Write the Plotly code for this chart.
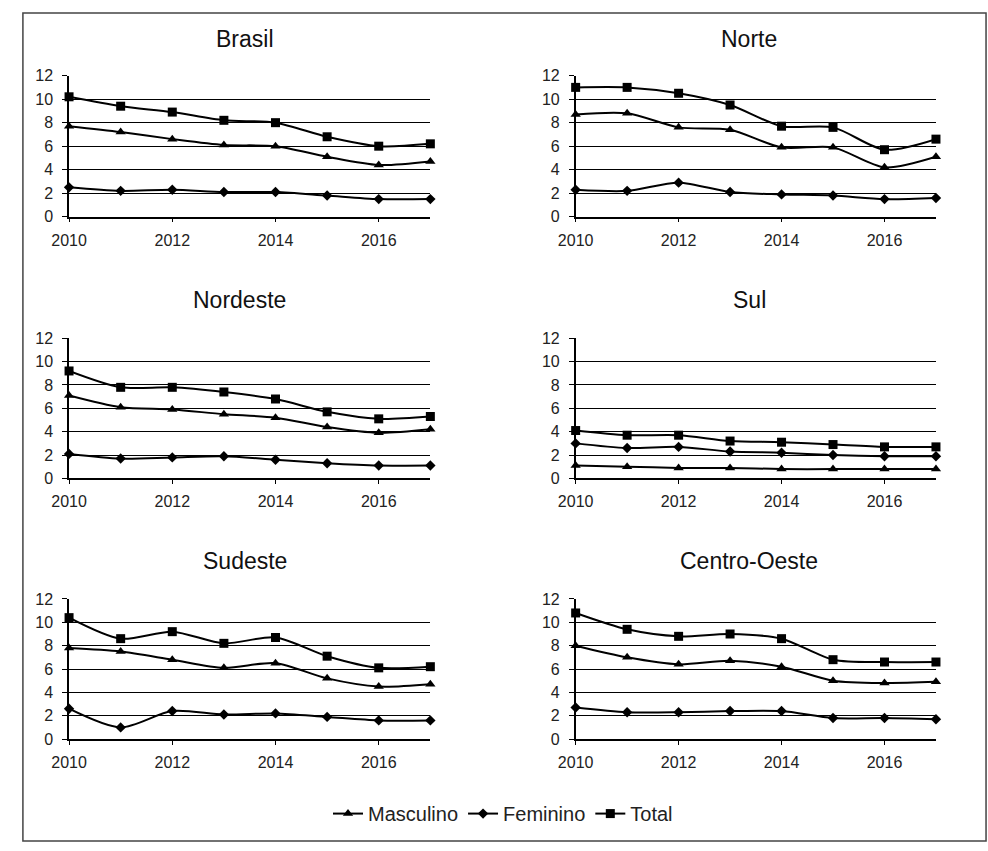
import plotly.graph_objects as go

W, H = 988, 851

years = [2010, 2011, 2012, 2013, 2014, 2015, 2016, 2017]
regions = ["Brasil", "Norte", "Nordeste", "Sul", "Sudeste", "Centro-Oeste"]

masc_brasil = [7.7, 7.2, 6.6, 6.1, 6.0, 5.1, 4.4, 4.7]
fem_brasil = [2.5, 2.2, 2.3, 2.1, 2.1, 1.8, 1.5, 1.5]
tot_brasil = [10.2, 9.4, 8.9, 8.2, 8.0, 6.8, 6.0, 6.2]

masc_norte = [8.7, 8.8, 7.6, 7.4, 5.9, 5.9, 4.2, 5.1]
fem_norte = [2.3, 2.2, 2.9, 2.1, 1.9, 1.8, 1.5, 1.6]
tot_norte = [11.0, 11.0, 10.5, 9.5, 7.7, 7.6, 5.7, 6.6]

masc_nordeste = [7.1, 6.1, 5.9, 5.5, 5.2, 4.4, 3.9, 4.2]
fem_nordeste = [2.1, 1.7, 1.8, 1.9, 1.6, 1.3, 1.1, 1.1]
tot_nordeste = [9.2, 7.8, 7.8, 7.4, 6.8, 5.7, 5.1, 5.3]

masc_sul = [1.1, 1.0, 0.9, 0.9, 0.8, 0.8, 0.8, 0.8]
fem_sul = [3.0, 2.6, 2.7, 2.3, 2.2, 2.0, 1.9, 1.9]
tot_sul = [4.1, 3.7, 3.7, 3.2, 3.1, 2.9, 2.7, 2.7]

masc_sudeste = [7.8, 7.5, 6.8, 6.1, 6.5, 5.2, 4.5, 4.7]
fem_sudeste = [2.6, 1.0, 2.4, 2.1, 2.2, 1.9, 1.6, 1.6]
tot_sudeste = [10.4, 8.6, 9.2, 8.2, 8.7, 7.1, 6.1, 6.2]

masc_co = [8.0, 7.0, 6.4, 6.7, 6.2, 5.0, 4.8, 4.9]
fem_co = [2.7, 2.3, 2.3, 2.4, 2.4, 1.8, 1.8, 1.7]
tot_co = [10.8, 9.4, 8.8, 9.0, 8.6, 6.8, 6.6, 6.6]

series_names = ["Masculino", "Feminino", "Total"]
panel_data = [
    (masc_brasil, fem_brasil, tot_brasil),
    (masc_norte, fem_norte, tot_norte),
    (masc_nordeste, fem_nordeste, tot_nordeste),
    (masc_sul, fem_sul, tot_sul),
    (masc_sudeste, fem_sudeste, tot_sudeste),
    (masc_co, fem_co, tot_co),
]

symbols = ["triangle-up", "diamond", "square"]
msizes = [9, 8, 9]

# pixel layout of plot areas (left, right, top, bottom)
col_px = [(52, 420), (568, 935)]
row_px = [(69, 213), (337, 480), (603, 746)]
title_pos = [(231, 32), (745, 32), (226, 298), (745, 298), (231, 564), (745, 564)]

FONT = "Liberation Sans, Arial, sans-serif"
fig = go.Figure()
layout = dict(
    width=W, height=H, margin=dict(l=0, r=0, t=0, b=0),
    paper_bgcolor="white", plot_bgcolor="white",
    font=dict(family=FONT, color="#222222"),
    showlegend=True,
    legend=dict(orientation="h", x=0.5, xanchor="center",
                y=1 - 822 / H, yanchor="middle",
                font=dict(size=20, family=FONT, color="#222222"),
                itemsizing="trace", tracegroupgap=0),
    annotations=[], shapes=[],
)

for i, (reg, data) in enumerate(zip(regions, panel_data)):
    r, c = divmod(i, 2)
    k = "" if i == 0 else str(i + 1)
    x0, x1 = col_px[c]
    t0, b0 = row_px[r]
    layout["xaxis" + k] = dict(
        domain=[x0 / W, x1 / W], anchor="y" + k, range=[2010, 2017],
        tickvals=[2010, 2012, 2014, 2016], showgrid=False, zeroline=False,
        showline=True, linecolor="black", linewidth=1.5,
        ticks="outside", ticklen=4, tickcolor="black", tickwidth=1,
        tickfont=dict(size=16, family=FONT, color="#222222"),
        ticklabelstandoff=4, fixedrange=True,
    )
    layout["yaxis" + k] = dict(
        domain=[1 - b0 / H, 1 - t0 / H], anchor="x" + k, range=[0, 12],
        dtick=2, tick0=0, showgrid=True, gridcolor="black", gridwidth=1,
        zeroline=False, showline=True, linecolor="black", linewidth=1.5,
        ticks="outside", ticklen=5, tickcolor="black", tickwidth=1,
        tickfont=dict(size=16, family=FONT, color="#222222"),
        ticklabelstandoff=6, fixedrange=True,
    )
    tx, ty = title_pos[i]
    layout["annotations"].append(dict(
        text=reg, x=tx / W, y=1 - ty / H, xref="paper", yref="paper",
        xanchor="center", yanchor="middle", showarrow=False,
        font=dict(size=23, family=FONT, color="#111111")))
    for j, (name, vals) in enumerate(zip(series_names, data)):
        fig.add_trace(go.Scatter(
            x=years, y=vals, name=name, legendgroup=name,
            showlegend=(i == 0), mode="lines+markers",
            line=dict(color="black", width=2, shape="spline", smoothing=0.8),
            marker=dict(symbol=symbols[j], size=msizes[j], color="black"),
            cliponaxis=False,
            xaxis="x" + k, yaxis="y" + k,
        ))

layout["shapes"].append(dict(
    type="rect", xref="paper", yref="paper",
    x0=5 / W, x1=986 / W, y0=1 - 850 / H, y1=1 - 5 / H,
    line=dict(color="#444444", width=1.5), fillcolor="rgba(0,0,0,0)"))

fig.update_layout(**layout)
fig.write_html(
    "out.html",
    config={"displayModeBar": False},
    post_script="document.body.style.margin='0';document.body.style.overflow='hidden';",
)
